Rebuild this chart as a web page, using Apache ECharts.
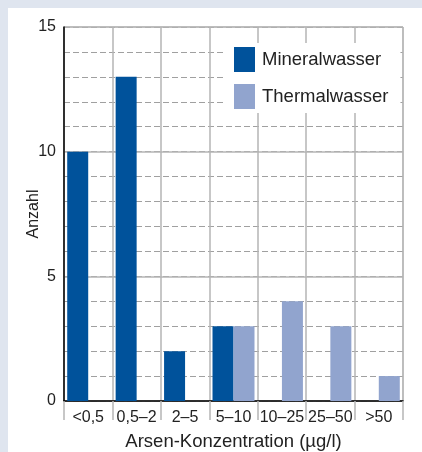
<!DOCTYPE html>
<html><head><meta charset="utf-8">
<script src="https://cdn.jsdelivr.net/npm/echarts@6/dist/echarts.min.js"></script>
<style>
html,body{margin:0;padding:0;background:#dfe5ef;width:422px;height:452px;overflow:hidden}
#panel{position:absolute;left:8px;top:8px;width:414px;height:444px;background:#fff}
#c{position:absolute;left:0;top:0;width:422px;height:452px}
</style></head><body>
<div id="panel"></div>
<div id="c"></div>
<script>
const categories = ['<0,5','0,5–2','2–5','5–10','10–25','25–50','>50'];
const mineral = [10, 13, 2, 3, 0, 0, 0];
const thermal = [0, 0, 0, 3, 4, 3, 1];
const yTicks = [0, 5, 10, 15];

const chart = echarts.init(document.getElementById('c'));
const font = 'Liberation Sans, Arial, sans-serif';
chart.setOption({
  animation: false,
  textStyle: {fontFamily: font},
  grid: {left: 64, right: 19, top: 27, bottom: 51, show: true, borderColor: '#b5b5b5', borderWidth: 1,
         outerBoundsMode: 'none', containLabel: false},
  legend: {
    orient: 'vertical', left: 225, top: 43,
    icon: 'rect', itemWidth: 21, itemHeight: 25, itemGap: 12,
    backgroundColor: '#fff', padding: [4, 12, 4, 9],
    textStyle: {fontSize: 18.5, color: '#222', fontFamily: font, padding: [0, 0, 0, 2]},
    data: ['Mineralwasser', 'Thermalwasser']
  },
  xAxis: {
    type: 'category', data: categories,
    name: 'Arsen-Konzentration (µg/l)', nameLocation: 'middle', nameGap: 31, nameMoveOverlap: false,
    nameTextStyle: {fontSize: 18.5, color: '#222', fontFamily: font},
    axisLine: {lineStyle: {color: '#000', width: 1.5}},
    axisTick: {show: true, length: 19, interval: 0, lineStyle: {color: '#b5b5b5', width: 1.5}},
    axisLabel: {fontSize: 16, color: '#222', margin: 9, interval: 0, fontFamily: font},
    splitLine: {show: true, interval: 0, lineStyle: {color: '#b5b5b5', width: 1.5}}
  },
  yAxis: [{
    type: 'value', min: 0, max: 15, interval: 1,
    name: 'Anzahl', nameLocation: 'middle', nameGap: 22, nameMoveOverlap: false,
    nameTextStyle: {fontSize: 16, color: '#222', fontFamily: font},
    axisLine: {show: true, lineStyle: {color: '#000', width: 1.5}},
    axisTick: {show: false},
    axisLabel: {fontSize: 16, color: '#222', margin: 8, fontFamily: font,
      formatter: v => yTicks.indexOf(v) >= 0 ? String(v) : ''},
    splitLine: {show: true, lineStyle: {color: '#a0a0a0', type: [6, 3], width: 1}}
  }, {
    type: 'value', min: 0, max: 15, interval: 5, position: 'left',
    axisLine: {show: false}, axisTick: {show: false}, axisLabel: {show: false},
    splitLine: {show: true, lineStyle: {color: '#b5b5b5', width: 1.5}}
  }],
  series: [
    {name: 'Mineralwasser', type: 'bar', data: mineral, barWidth: 21, barGap: '0%',
     itemStyle: {color: '#00529b'}, z: 3},
    {name: 'Thermalwasser', type: 'bar', data: thermal, barWidth: 21, barGap: '0%',
     itemStyle: {color: '#91a4ce'}, z: 3}
  ]
});
</script>
</body></html>
